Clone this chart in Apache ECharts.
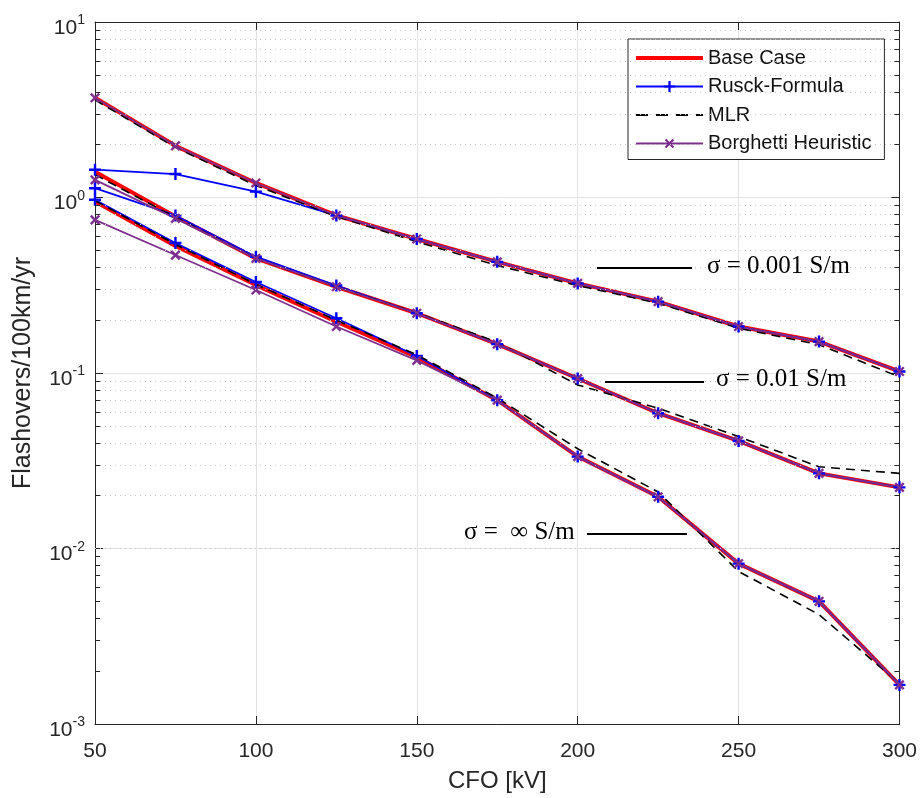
<!DOCTYPE html>
<html>
<head>
<meta charset="utf-8">
<script src="https://cdn.jsdelivr.net/npm/echarts@6/dist/echarts.min.js"></script>
<style>
  html, body { margin: 0; padding: 0; background: #fff; }
  #chart { width: 920px; height: 798px; }
</style>
</head>
<body>
<div id="chart"></div>
<script>
// CFO [kV]
const cfo = [50, 75, 100, 125, 150, 175, 200, 225, 250, 275, 300];

// Base Case
const base001 = [3.7, 1.97, 1.21, 0.79, 0.58, 0.43, 0.324, 0.255, 0.184, 0.151, 0.102];
const base01 = [1.40, 0.78, 0.45, 0.31, 0.219, 0.146, 0.093, 0.059, 0.041, 0.0268, 0.0223];
const baseInf = [0.95, 0.53, 0.317, 0.196, 0.123, 0.070, 0.0334, 0.0197, 0.0082, 0.0050, 0.00167];

// Rusck-Formula
const rusck001 = [1.44, 1.36, 1.08, 0.79, 0.58, 0.43, 0.324, 0.255, 0.184, 0.151, 0.102];
const rusck01 = [1.13, 0.79, 0.46, 0.315, 0.219, 0.146, 0.093, 0.059, 0.041, 0.0268, 0.0223];
const rusckInf = [0.97, 0.55, 0.33, 0.205, 0.125, 0.070, 0.0334, 0.0197, 0.0082, 0.0050, 0.00167];

// MLR
const mlr001 = [3.6, 1.93, 1.17, 0.78, 0.56, 0.41, 0.315, 0.25, 0.18, 0.145, 0.095];
const mlr01 = [1.35, 0.77, 0.45, 0.31, 0.22, 0.15, 0.0855, 0.063, 0.0434, 0.0292, 0.0268];
const mlrInf = [0.96, 0.54, 0.32, 0.2, 0.127, 0.072, 0.037, 0.021, 0.0074, 0.0042, 0.0017];

// Borghetti Heuristic
const borg001 = [3.7, 1.97, 1.21, 0.79, 0.58, 0.43, 0.324, 0.255, 0.184, 0.151, 0.102];
const borg01 = [1.26, 0.76, 0.45, 0.31, 0.219, 0.146, 0.093, 0.059, 0.041, 0.0268, 0.0223];
const borgInf = [0.745, 0.47, 0.297, 0.184, 0.118, 0.070, 0.0334, 0.0197, 0.0082, 0.0050, 0.00167];

const PLUS = 'path://M4,0h2v10h-2z M0,4h10v2h-10z';
const AX = '#262626';

function pairs(arr) {
  return cfo.map((x, i) => [x, arr[i]]);
}

function line(name, arr, color, width, type, symbol, rot) {
  return {
    name: name,
    type: 'line',
    data: pairs(arr),
    symbol: symbol || 'none',
    symbolSize: 12,
    symbolRotate: rot || 0,
    showSymbol: !!symbol,
    itemStyle: { color: color },
    lineStyle: { color: color, width: width, type: type || 'solid' },
    emphasis: { disabled: true },
    animation: false
  };
}

// minor grid values (2..9 in every decade)
const minorVals = [];
[0.001, 0.01, 0.1, 1].forEach(d => {
  for (let k = 2; k <= 9; k++) minorVals.push(+(k * d).toPrecision(3));
});

const gridSeries = {
  name: 'grid',
  type: 'line',
  data: [],
  silent: true,
  markLine: {
    silent: true,
    symbol: ['none', 'none'],
    label: { show: false },
    animation: false,
    data: [].concat(
      minorVals.map(v => ({ yAxis: v, lineStyle: { color: '#c4c4c4', type: [1, 4], width: 1 } })),
      minorVals.map(v => [{ coord: [50, v], lineStyle: { color: AX, type: 'solid', width: 1 } }, { coord: [51.6, v] }]),
      minorVals.map(v => [{ coord: [298.4, v], lineStyle: { color: AX, type: 'solid', width: 1 } }, { coord: [300, v] }])
    )
  }
};

const chart = echarts.init(document.getElementById('chart'));

const yLabel = {
  color: AX,
  margin: 10,
  padding: [12, 0, 0, 0],
  fontFamily: 'Liberation Sans',
  formatter: v => '{b|10}{s|' + Math.round(Math.log10(v)) + '}',
  rich: {
    b: { fontSize: 21, color: AX, fontFamily: 'Liberation Sans' },
    s: { fontSize: 14, color: AX, fontFamily: 'Liberation Sans', padding: [0, 0, 15, 0] }
  }
};

const annoFont = '25px "Liberation Serif"';

chart.setOption({
  backgroundColor: '#fff',
  animation: false,
  grid: { left: 95, right: 20, top: 22, bottom: 74, show: false },
  legend: {
    data: [
      { name: 'Base Case', itemStyle: { opacity: 0 }, lineStyle: { width: 4 } },
      { name: 'Rusck-Formula' },
      { name: 'MLR', itemStyle: { opacity: 0 }, lineStyle: { type: [12, 8] } },
      { name: 'Borghetti Heuristic' }
    ],
    orient: 'vertical',
    left: 628,
    top: 39,
    itemWidth: 67,
    itemHeight: 14,
    itemGap: 8.5,
    padding: [9, 13, 6, 6],
    backgroundColor: '#fff',
    borderColor: AX,
    borderWidth: 1,
    selectedMode: false,
    textStyle: { fontSize: 20, color: '#111', fontFamily: 'Liberation Sans' }
  },
  xAxis: [{
    type: 'value',
    min: 50, max: 300, interval: 50,
    name: 'CFO [kV]',
    nameLocation: 'middle',
    nameGap: 45,
    nameTextStyle: { fontSize: 24, color: AX, fontFamily: 'Liberation Sans' },
    axisLine: { lineStyle: { color: AX, width: 1 } },
    axisTick: { inside: true, length: 8, lineStyle: { color: AX } },
    axisLabel: { fontSize: 21, color: AX, margin: 17, fontFamily: 'Liberation Sans' },
    splitLine: { show: true, lineStyle: { color: '#e3e3e3', width: 1 } }
  }, {
    type: 'value', position: 'top',
    min: 50, max: 300, interval: 50,
    axisLine: { show: true, lineStyle: { color: AX, width: 1 } },
    axisTick: { inside: true, length: 8, lineStyle: { color: AX } },
    axisLabel: { show: false },
    splitLine: { show: false }
  }],
  yAxis: [{
    type: 'log',
    min: 0.001, max: 10, logBase: 10,
    name: 'Flashovers/100km/yr',
    nameLocation: 'middle',
    nameGap: 59,
    nameTextStyle: { fontSize: 25, color: AX, fontFamily: 'Liberation Sans' },
    axisLine: { show: true, lineStyle: { color: AX, width: 1 } },
    axisTick: { inside: true, length: 8, lineStyle: { color: AX } },
    axisLabel: yLabel,
    splitLine: { show: true, lineStyle: { color: '#e3e3e3', width: 1 } }
  }, {
    type: 'log', position: 'right',
    min: 0.001, max: 10, logBase: 10,
    axisLine: { show: true, lineStyle: { color: AX, width: 1 } },
    axisTick: { inside: true, length: 8, lineStyle: { color: AX } },
    axisLabel: { show: false },
    splitLine: { show: false }
  }],
  series: [
    gridSeries,
    line('Base Case', base001, '#ff0000', 4),
    line('Base Case', base01, '#ff0000', 4),
    line('Base Case', baseInf, '#ff0000', 4),
    line('Rusck-Formula', rusck001, '#0000ff', 1.8, 'solid', PLUS),
    line('Rusck-Formula', rusck01, '#0000ff', 1.8, 'solid', PLUS),
    line('Rusck-Formula', rusckInf, '#0000ff', 1.8, 'solid', PLUS),
    line('MLR', mlr001, '#000000', 1.6, [9, 6]),
    line('MLR', mlr01, '#000000', 1.6, [9, 6]),
    line('MLR', mlrInf, '#000000', 1.6, [9, 6]),
    line('Borghetti Heuristic', borg001, '#7e2f8e', 1.8, 'solid', PLUS, 45),
    line('Borghetti Heuristic', borg01, '#7e2f8e', 1.8, 'solid', PLUS, 45),
    line('Borghetti Heuristic', borgInf, '#7e2f8e', 1.8, 'solid', PLUS, 45)
  ],
  graphic: [
    { type: 'line', shape: { x1: 597, y1: 268, x2: 692, y2: 268 }, style: { stroke: '#000', lineWidth: 2 }, z: 10 },
    { type: 'text', x: 707, y: 266, style: { text: 'σ = 0.001 S/m', font: annoFont, fill: '#000', verticalAlign: 'middle' }, z: 10 },
    { type: 'line', shape: { x1: 605, y1: 382, x2: 704, y2: 382 }, style: { stroke: '#000', lineWidth: 2 }, z: 10 },
    { type: 'text', x: 716, y: 379, style: { text: 'σ = 0.01 S/m', font: annoFont, fill: '#000', verticalAlign: 'middle' }, z: 10 },
    { type: 'line', shape: { x1: 587, y1: 534, x2: 687, y2: 534 }, style: { stroke: '#000', lineWidth: 2 }, z: 10 },
    { type: 'text', x: 464, y: 532, style: { text: 'σ =  ∞ S/m', font: annoFont, fill: '#000', verticalAlign: 'middle' }, z: 10 }
  ]
});
</script>
</body>
</html>
